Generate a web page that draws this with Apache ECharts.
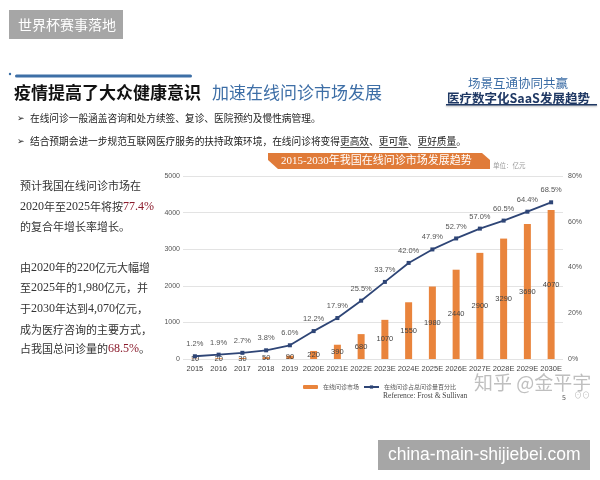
<!DOCTYPE html>
<html>
<head>
<meta charset="utf-8">
<script src="https://cdn.jsdelivr.net/npm/echarts@6/dist/echarts.min.js"></script>
<style>
html, body { margin: 0; padding: 0; background: #fff; }
#main { width: 600px; height: 480px; }
</style>
</head>
<body>
<div id="main"></div>
<script>
// 数据
var years = ['2015', '2016', '2017', '2018', '2019', '2020E', '2021E', '2022E', '2023E', '2024E', '2025E', '2026E', '2027E', '2028E', '2029E', '2030E'];
var marketSize = [10, 20, 30, 50, 90, 220, 390, 680, 1070, 1550, 1980, 2440, 2900, 3290, 3690, 4070];
var sharePct = [1.2, 1.9, 2.7, 3.8, 6.0, 12.2, 17.9, 25.5, 33.7, 42.0, 47.9, 52.7, 57.0, 60.5, 64.4, 68.5];
var leftTicks = [0, 5000, 1000];
var rightTicks = [0, 80, 20];

var CJK = '"Noto Sans CJK SC", sans-serif';
var SERIF = '"Liberation Serif", "Noto Sans CJK SC", serif';
var SANS = '"Liberation Sans", sans-serif';

var myChart = echarts.init(document.getElementById('main'));

function txt(x, y, text, style) {
    return {
        type: 'text', x: x, y: y,
        style: Object.assign({ text: text, fontFamily: CJK, fill: '#333', fontSize: 11, verticalAlign: 'middle' }, style)
    };
}

var bodyRich = {
    r: { fill: '#8b1a2b', fontFamily: SERIF, fontSize: 12 },
    n: { fontFamily: SERIF, fontSize: 12, fill: '#333' }
};

// 第二条要点的下划线，按字宽推算
var bw = 9.7, bx = 30;
function uline(from, to) {
    return { type: 'rect', shape: { x: bx + from * bw, y: 147, width: (to - from) * bw, height: 0.8 }, style: { fill: '#222' } };
}

var graphics = [
    // 左上标签
    { type: 'rect', shape: { x: 9, y: 10, width: 114, height: 29 }, style: { fill: '#a6a6a6' } },
    txt(18, 25, '世界杯赛事落地', { fill: '#fff', fontSize: 14 }),
    // 标题蓝线
    { type: 'circle', shape: { cx: 10, cy: 74, r: 1.2 }, style: { fill: '#3a6ea5' } },
    { type: 'rect', shape: { x: 15, y: 74.5, width: 177, height: 3, r: 1.5 }, style: { fill: '#3d6fa6' } },
    txt(14, 93, '疫情提高了大众健康意识', { fill: '#111', fontSize: 17, fontWeight: 'bold' }),
    txt(212, 93, '加速在线问诊市场发展', { fill: '#3d6ea6', fontSize: 17 }),
    // 右上
    txt(468, 83, '场景互通协同共赢', { fill: '#3d6ea6', fontSize: 12.5 }),
    txt(447, 98, '医疗数字化SaaS发展趋势', { fill: '#1f3864', fontSize: 12.5, fontWeight: 'bold' }),
    { type: 'rect', shape: { x: 446, y: 104, width: 151, height: 1.5 }, style: { fill: '#1f3864', shadowBlur: 2, shadowColor: 'rgba(0,0,0,0.3)', shadowOffsetY: 1 } },
    // 要点
    txt(17, 118, '➢', { fill: '#222', fontSize: 9 }),
    txt(bx, 118, '在线问诊一般涵盖咨询和处方续签、复诊、医院预约及慢性病管理。', { fill: '#222', fontSize: bw }),
    txt(17, 141, '➢', { fill: '#222', fontSize: 9 }),
    txt(bx, 141, '结合预期会进一步规范互联网医疗服务的扶持政策环境，在线问诊将变得更高效、更可靠、更好质量。', { fill: '#222', fontSize: bw }),
    uline(32, 35), uline(36, 39), uline(40, 44),
    // 橙色标题条
    { type: 'polygon', shape: { points: [[268, 153], [482, 153], [490, 160], [490, 169], [278, 169], [268, 160]] }, style: { fill: '#e07b39' } },
    txt(281, 161, '2015-2030年我国在线问诊市场发展趋势', { fill: '#fff', fontSize: 11, fontFamily: SERIF }),
    txt(493, 166, '单位：亿元', { fill: '#999', fontSize: 6.5 }),
    // 左侧说明
    txt(20, 186, '预计我国在线问诊市场在', { fill: '#333', fontSize: 11 }),
    { type: 'text', x: 20, y: 207, style: { text: '{n|2020}年至{n|2025}年将按{r|77.4%}', rich: bodyRich, fontFamily: CJK, fill: '#333', fontSize: 11, verticalAlign: 'middle' } },
    txt(20, 227, '的复合年增长率增长。', { fill: '#333', fontSize: 11 }),
    { type: 'text', x: 20, y: 268, style: { text: '由{n|2020}年的{n|220}亿元大幅增', rich: bodyRich, fontFamily: CJK, fill: '#333', fontSize: 11, verticalAlign: 'middle' } },
    { type: 'text', x: 20, y: 288, style: { text: '至{n|2025}年的{n|1,980}亿元，并', rich: bodyRich, fontFamily: CJK, fill: '#333', fontSize: 11, verticalAlign: 'middle' } },
    { type: 'text', x: 20, y: 309, style: { text: '于{n|2030}年达到{n|4,070}亿元，', rich: bodyRich, fontFamily: CJK, fill: '#333', fontSize: 11, verticalAlign: 'middle' } },
    txt(20, 330, '成为医疗咨询的主要方式，', { fill: '#333', fontSize: 11 }),
    { type: 'text', x: 20, y: 349, style: { text: '占我国总问诊量的{r|68.5%}。', rich: bodyRich, fontFamily: CJK, fill: '#333', fontSize: 11, verticalAlign: 'middle' } },
    // 来源、水印
    txt(383, 396, 'Reference: Frost & Sullivan', { fill: '#444', fontSize: 7.5, fontFamily: SERIF }),
    txt(474, 383, '知乎 @金平宇', { fill: 'rgba(170,170,170,0.75)', fontSize: 19 }),
    txt(562, 397, '5', { fill: '#555', fontSize: 7 }),
    txt(574, 395, '⊙⊙', { fill: '#bbb', fontSize: 8 }),
    { type: 'rect', shape: { x: 378, y: 440, width: 212, height: 30 }, style: { fill: '#a6a6a6' } },
    txt(388, 455, 'china-main-shijiebei.com', { fill: '#fff', fontSize: 17.5, fontFamily: SANS })
];

var option = {
    backgroundColor: '#fff',
    animation: false,
    textStyle: { fontFamily: CJK },
    grid: { left: 183, right: 37, top: 176, bottom: 121 },
    legend: {
        left: 298, top: 379,
        itemWidth: 15, itemHeight: 4, itemGap: 4,
        textStyle: { fontSize: 6, color: '#555' },
        data: ['在线问诊市场', '在线问诊占总问诊量百分比']
    },
    xAxis: {
        type: 'category',
        data: years,
        axisLine: { show: false },
        axisTick: { show: false },
        axisLabel: { fontSize: 7.5, color: '#444', margin: 6, interval: 0, fontFamily: SANS }
    },
    yAxis: [{
        type: 'value',
        min: leftTicks[0], max: leftTicks[1], interval: leftTicks[2],
        axisLabel: { fontSize: 7, color: '#555', margin: 3, fontFamily: SANS, formatter: function (v) { return String(v); } },
        splitLine: { lineStyle: { color: '#e3e3e3' } }
    }, {
        type: 'value',
        min: rightTicks[0], max: rightTicks[1], interval: rightTicks[2],
        axisLabel: { fontSize: 7, color: '#555', margin: 5, formatter: '{value}%', fontFamily: SANS },
        splitLine: { show: false }
    }],
    series: [{
        name: '在线问诊市场',
        type: 'bar',
        data: marketSize,
        barWidth: 7,
        itemStyle: { color: '#e9843c' },
        label: { show: true, position: 'inside', fontSize: 7.5, color: '#444', fontFamily: SANS }
    }, {
        name: '在线问诊占总问诊量百分比',
        type: 'line',
        yAxisIndex: 1,
        data: sharePct,
        symbol: 'rect',
        symbolSize: 4,
        lineStyle: { color: '#2e4576', width: 1.8 },
        itemStyle: { color: '#2e4576' },
        label: {
            show: true, position: 'top', distance: 6,
            fontSize: 7.5, color: '#555', fontFamily: SANS,
            formatter: function (p) { return p.value.toFixed(1) + '%'; }
        }
    }],
    graphic: graphics
};

myChart.setOption(option);
</script>
</body>
</html>
